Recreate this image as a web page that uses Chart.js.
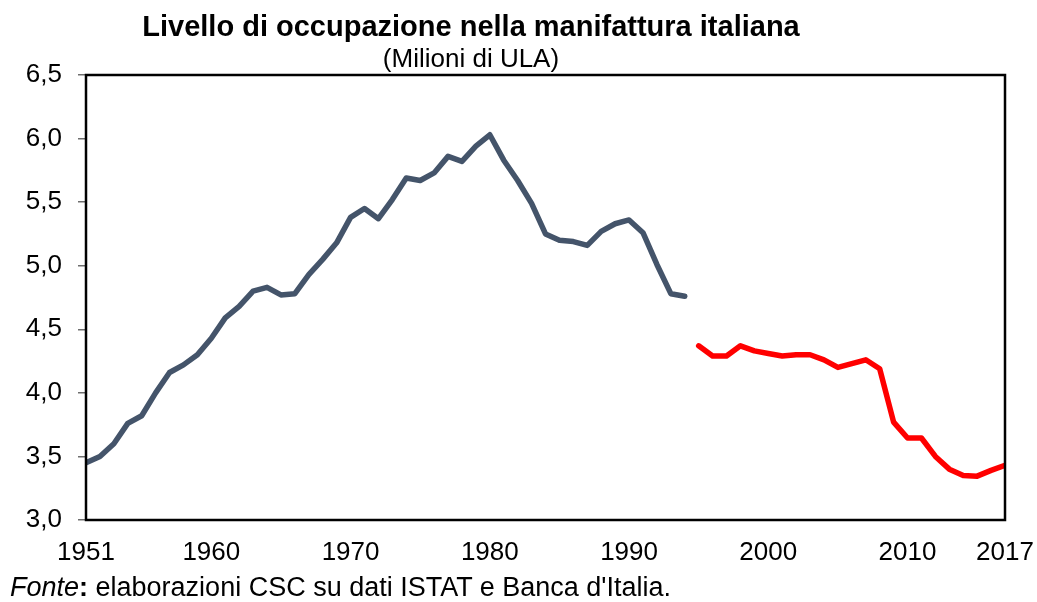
<!DOCTYPE html>
<html lang="it">
<head>
<meta charset="utf-8">
<title>Livello di occupazione nella manifattura italiana</title>
<script src="https://cdn.jsdelivr.net/npm/chart.js@4.4.1/dist/chart.umd.min.js"></script>
<style>
  html, body { margin: 0; padding: 0; background: #fff; }
  body { width: 1037px; height: 602px; position: relative; overflow: hidden; font-family: "Liberation Sans", Arial, sans-serif; color: #000; }
  #wrap { position: absolute; left: 0; top: 0; width: 1037px; height: 602px; }
  .titolo { position: absolute; left: 0; width: 942px; text-align: center; white-space: nowrap; }
  #titolo { top: 12px; font-size: 29px; line-height: 29px; font-weight: bold; }
  #sottotitolo { top: 45px; font-size: 26px; line-height: 26px; }
  #fonte { position: absolute; left: 10px; top: 574px; font-size: 27px; line-height: 27px; white-space: nowrap; }
</style>
</head>
<body>
<div id="wrap"><canvas id="myChart" width="1037" height="602"></canvas></div>
<div class="titolo" id="titolo">Livello di occupazione nella manifattura italiana</div>
<div class="titolo" id="sottotitolo">(Milioni di ULA)</div>
<div id="fonte"><i>Fonte</i><b>:</b> elaborazioni CSC su dati ISTAT e Banca d'Italia.</div>

<script>
// occupati nella manifattura, milioni di ULA
const primoAnnoStorico = 1951;
const serieStorica = [
  3.45, 3.50, 3.60, 3.76, 3.82, 4.00, 4.16, 4.22, 4.30, 4.43,
  4.59, 4.68, 4.80, 4.83, 4.77, 4.78, 4.93, 5.05, 5.18, 5.38,
  5.45, 5.37, 5.52, 5.69, 5.67, 5.73, 5.86, 5.82, 5.94, 6.03,
  5.83, 5.67, 5.49, 5.25, 5.20, 5.19, 5.16, 5.27, 5.33, 5.36,
  5.26, 5.01, 4.78, 4.76
]; // 1951-1994

const primoAnnoNuovo = 1995;
const serieNuova = [
  4.37, 4.29, 4.29, 4.37, 4.33, 4.31, 4.29, 4.30, 4.30, 4.26,
  4.20, 4.23, 4.26, 4.19, 3.77, 3.645, 3.645, 3.50, 3.40, 3.35,
  3.345, 3.39, 3.43
]; // 1995-2017

const xTickLabels = [1951, 1960, 1970, 1980, 1990, 2000, 2010, 2017];
const yTickLabels = ["3,0", "3,5", "4,0", "4,5", "5,0", "5,5", "6,0", "6,5"];

const toPoints = (start, values) => values.map((v, i) => ({ x: start + i, y: v }));

// bordo nero attorno all'area del grafico
const plotBox = {
  id: "plotBox",
  afterDatasetsDraw(chart) {
    const { ctx, chartArea: a } = chart;
    ctx.save();
    ctx.strokeStyle = "#000";
    ctx.lineWidth = 2.5;
    ctx.strokeRect(a.left, a.top, a.right - a.left, a.bottom - a.top);
    ctx.restore();
  },
};

Chart.defaults.font.family = '"Liberation Sans", Arial, sans-serif';
Chart.defaults.color = "#000";

const ctx = document.getElementById("myChart").getContext("2d");

new Chart(ctx, {
  type: "line",
  data: {
    datasets: [
      {
        data: toPoints(primoAnnoStorico, serieStorica),
        borderColor: "#44546A",
        borderWidth: 5.5,
        pointRadius: 0,
        borderJoinStyle: "round",
        borderCapStyle: "round",
      },
      {
        data: toPoints(primoAnnoNuovo, serieNuova),
        borderColor: "#FF0000",
        borderWidth: 5.5,
        pointRadius: 0,
        borderJoinStyle: "round",
        borderCapStyle: "round",
      },
    ],
  },
  options: {
    responsive: false,
    animation: false,
    layout: { padding: { top: 75, right: 32, left: 0, bottom: 0 } },
    plugins: {
      legend: { display: false },
      tooltip: { enabled: false },
    },
    scales: {
      x: {
        type: "linear",
        min: 1951,
        max: 2017,
        afterBuildTicks: (scale) => {
          scale.ticks = xTickLabels.map((v) => ({ value: v }));
        },
        afterFit: (scale) => {
          scale.height = 82;
          scale.paddingLeft = 0;
          scale.paddingRight = 0;
        },
        grid: { display: false, drawTicks: false },
        border: { display: false },
        ticks: {
          font: { size: 26 },
          padding: 17,
          maxRotation: 0,
          autoSkip: false,
          callback: (v) => String(v),
        },
      },
      y: {
        min: 3,
        max: 6.5,
        afterFit: (scale) => {
          scale.width = 86;
        },
        grid: {
          drawOnChartArea: false,
          drawTicks: true,
          tickLength: 8,
          color: "#6e6e6e",
          lineWidth: 1.5,
        },
        border: { display: false },
        ticks: {
          stepSize: 0.5,
          font: { size: 26 },
          padding: 16,
          callback: (v) => yTickLabels[Math.round((v - 3) / 0.5)],
        },
      },
    },
  },
  plugins: [plotBox],
});
</script>
</body>
</html>
